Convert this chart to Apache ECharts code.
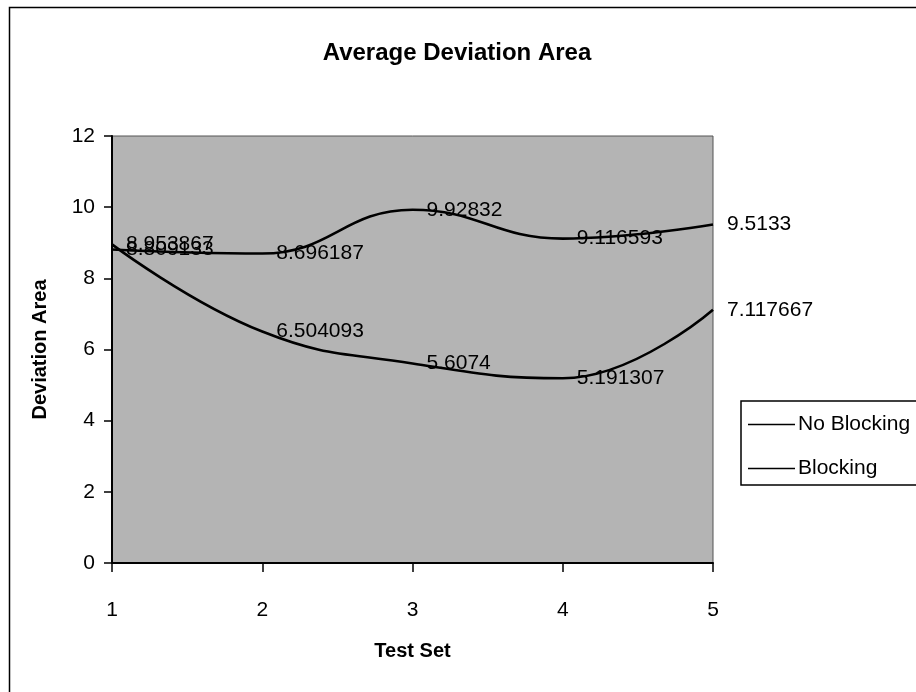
<!DOCTYPE html>
<html>
<head>
<meta charset="utf-8">
<title>Average Deviation Area</title>
<script src="https://cdn.jsdelivr.net/npm/echarts@6/dist/echarts.min.js"></script>
<style>
  html, body { margin: 0; padding: 0; background: #ffffff; }
  #chart { width: 916px; height: 692px; }
</style>
</head>
<body>
<div id="chart"></div>
<script>
// Test sets along the x axis
const testSets = [1, 2, 3, 4, 5];
// Average deviation area per test set
const noBlocking = [8.809133, 8.696187, 9.92832, 9.116593, 9.5133];
const blocking = [8.953867, 6.504093, 5.6074, 5.191307, 7.117667];
const seriesNames = ['No Blocking', 'Blocking'];
const yTicks = { min: 0, max: 12, step: 2 };

const FONT = '"Liberation Sans", Arial, Helvetica, sans-serif';
// thin horizontal stroke used as the legend key
const LINE_ICON = 'path://M0,0 L47,0 L47,1.6 L0,1.6 Z';

function pairs(values) {
  return testSets.map((x, i) => [x, values[i]]);
}

function makeSeries(name, values) {
  return {
    name: name,
    type: 'line',
    smooth: 0.45,
    symbol: 'circle',
    symbolSize: 0.1,
    showSymbol: true,
    data: pairs(values),
    lineStyle: { color: '#000000', width: 2.6 },
    itemStyle: { color: '#000000' },
    label: {
      show: true,
      position: 'right',
      distance: 14,
      color: '#000000',
      fontFamily: FONT,
      fontSize: 21,
      formatter: p => String(p.value[1])
    },
    z: 3
  };
}

const chart = echarts.init(document.getElementById('chart'), null, { renderer: 'canvas' });

chart.setOption({
  backgroundColor: '#ffffff',
  animation: false,
  title: {
    text: 'Average Deviation Area',
    left: 452,
    top: 36,
    textAlign: 'center',
    textStyle: { fontFamily: FONT, fontWeight: 'bold', fontSize: 24, color: '#000000' }
  },
  grid: {
    left: 112, right: 203, top: 136, bottom: 129,
    show: true,
    backgroundColor: '#b4b4b4',
    borderColor: '#555555',
    borderWidth: 1
  },
  legend: {
    orient: 'vertical',
    left: 741,
    top: 401,
    data: seriesNames.map(n => ({ name: n, icon: LINE_ICON })),
    backgroundColor: '#ffffff',
    borderColor: '#000000',
    borderWidth: 1.5,
    borderRadius: 0,
    padding: [13, 20, 6, 7],
    itemWidth: 47,
    itemHeight: 25,
    itemGap: 23,
    itemStyle: { color: '#000000' },
    textStyle: { fontFamily: FONT, fontSize: 21, color: '#000000', padding: [0, 0, 0, -2] }
  },
  xAxis: {
    type: 'value',
    min: 1,
    max: 5,
    interval: 1,
    name: 'Test Set',
    nameLocation: 'middle',
    nameGap: 78,
    nameTextStyle: { fontFamily: FONT, fontWeight: 'bold', fontSize: 20, color: '#000000' },
    axisLine: { show: true, onZero: false, lineStyle: { color: '#000000', width: 2 } },
    axisTick: { show: true, length: 9, lineStyle: { color: '#000000', width: 1.5 } },
    axisLabel: { margin: 37, fontFamily: FONT, fontSize: 21, color: '#000000' },
    splitLine: { show: false }
  },
  yAxis: {
    type: 'value',
    min: yTicks.min,
    max: yTicks.max,
    interval: yTicks.step,
    name: 'Deviation Area',
    nameLocation: 'middle',
    nameGap: 62,
    nameTextStyle: { fontFamily: FONT, fontWeight: 'bold', fontSize: 20, color: '#000000' },
    axisLine: { show: true, lineStyle: { color: '#000000', width: 2 } },
    axisTick: { show: true, length: 8, lineStyle: { color: '#000000', width: 1.5 } },
    axisLabel: { margin: 17, fontFamily: FONT, fontSize: 21, color: '#000000' },
    splitLine: { show: false }
  },
  graphic: [
    {
      type: 'rect',
      left: 7, top: 5,
      shape: { width: 930, height: 720 },
      style: { fill: 'none', stroke: '#000000', lineWidth: 1.5 },
      silent: true,
      z: -10
    }
  ],
  series: [
    makeSeries(seriesNames[0], noBlocking),
    makeSeries(seriesNames[1], blocking)
  ]
});
</script>
</body>
</html>
